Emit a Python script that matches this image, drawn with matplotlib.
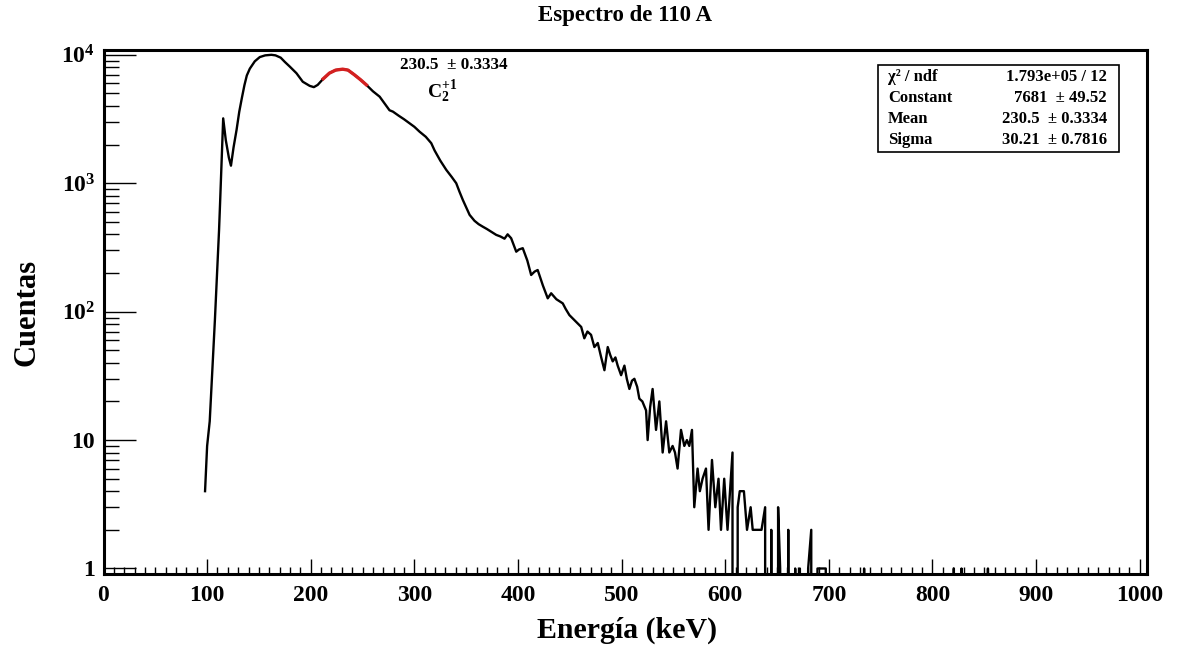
import numpy as np
import matplotlib.pyplot as plt
from matplotlib.patches import Rectangle
from matplotlib.ticker import FixedLocator, FixedFormatter, MultipleLocator, LogLocator, NullFormatter

plt.rcParams['font.family'] = 'Liberation Serif'
plt.rcParams['font.weight'] = 'bold'
plt.rcParams['mathtext.fontset'] = 'custom'
plt.rcParams['mathtext.rm'] = 'Liberation Serif:bold'
plt.rcParams['mathtext.it'] = 'Liberation Serif:italic:bold'
plt.rcParams['mathtext.bf'] = 'Liberation Serif:bold'

# spectrum, in pieces (keV, counts)
e_subida = [98, 100, 102.5, 105, 107.5, 111.5, 112.5, 115.5, 118, 121, 123]
c_subida = [4, 9, 14, 35, 86, 430, 700, 3200, 2170, 1580, 1370]

e_picos = [125.5, 128.4, 131, 133.5, 136, 138.3, 141.2, 146, 150.8, 156,
           162, 166, 171, 175, 179.8, 186.2, 192.3, 199, 203, 206.7,
           212, 218, 224, 230.8, 236, 242, 248, 253.7, 260, 266.5,
           271, 276]
c_picos = [1900, 2600, 3600, 4600, 5800, 6900, 7800, 8900, 9600, 9900,
           10000, 9900, 9500, 8800, 8090, 7190, 6170, 5730, 5600, 5830,
           6500, 7200, 7600, 7730, 7600, 7000, 6400, 5830, 5200, 4720,
           4200, 3700]

e_caida = [279.3, 285, 290, 295.4, 300, 305, 311, 316.3, 319.5, 325,
           330.8, 336, 340.4, 343.5, 346.8, 350, 353.3, 358, 362, 366,
           370, 374, 379, 383, 387, 390, 393.4, 398.3, 401, 404.6,
           409, 412.7, 416, 419, 424, 428.7, 432, 437, 443.2, 446,
           449.6, 455, 461, 464, 467, 470.5, 473.7, 477, 480, 483.4,
           486.6, 489, 491.4, 494, 496.2, 499.5]
c_caida = [3610, 3350, 3150, 2930, 2750, 2520, 2300, 2050, 1800, 1500,
           1270, 1120, 1000, 860, 740, 650, 567, 510, 480, 459,
           440, 420, 396, 385, 370, 400, 373, 293, 305, 312,
           250, 193, 205, 211, 160, 127, 139, 125, 116, 105,
           94, 85, 76, 62, 70, 66, 53, 57, 45, 35,
           53, 46, 41, 44, 38, 32]

e_cola = [502.7, 505, 507.5, 510, 512.3, 515, 517.1, 520, 523.6, 525.1,
          527.5, 529.9, 533.2, 536.4, 539.6, 542.9, 546, 549.2, 551.5, 554,
          557.3, 560.5, 563, 565.3, 567.9, 570.1, 573.3, 575.5, 578.1, 581.4,
          583.9, 587.2, 590.4, 593.5, 595.9, 599, 602.2]
c_cola = [38, 30, 25, 29, 30, 26, 21, 20, 17, 10,
          18, 25, 12, 20, 8, 14, 8, 9, 8, 6,
          12, 9, 10, 9, 12, 3, 6, 4, 5, 6,
          2, 7, 3, 5, 2, 5, 2]

e_final = [607, 609, 612, 614, 618, 621, 624.5, 626.5, 630, 635,
           638.5, 640.5, 644.4, 645.5, 651, 653, 655, 660.8, 663, 667.5,
           669, 672, 674, 678, 680, 683, 685, 687, 689, 697,
           699, 732, 734, 736, 818.6, 820.6, 822.6, 826, 828, 830,
           851.5, 853.5, 855.5]
c_final = [8, 0, 3, 4, 4, 2, 3, 2, 2, 2,
           3, 0, 2, 0, 3, 1, 0, 2, 0, 1,
           0, 1, 0, 0, 1, 2, 0, 0, 1, 1,
           0, 0, 1, 0, 0, 1, 0, 0, 1, 0,
           0, 1, 0]

# gaussian fit shown in the stat box
fit_rango = (207, 254)
fit_chi2 = '1.793e+05 / 12'
fit_constant = '7681  ± 49.52'
fit_mean = '230.5  ± 0.3334'
fit_sigma = '30.21  ± 0.7816'

energia = np.concatenate([e_subida, e_picos, e_caida, e_cola, e_final])
cuentas = np.concatenate([c_subida, c_picos, c_caida, c_cola, c_final]).astype(float)

W, H = 1180, 649
fig = plt.figure(figsize=(W / 100, H / 100), dpi=100)
ax = fig.add_axes([103.5 / W, 1 - 574 / H, (1147 - 103.5) / W, (574 - 50) / H])

ax.set_yscale('log', nonpositive='clip')
ax.plot(energia, cuentas, color='black', lw=1.7)
sel = (energia >= fit_rango[0]) & (energia <= fit_rango[1])
ax.plot(energia[sel], cuentas[sel], color='#d42020', lw=2.4)

ax.set_xlim(0, 1007)
ax.set_ylim(0.906, 1.09e4)

ax.xaxis.set_major_locator(MultipleLocator(100))
ax.xaxis.set_minor_locator(MultipleLocator(10))
ax.yaxis.set_major_locator(FixedLocator([1, 10, 100, 1000, 10000]))
ax.yaxis.set_major_formatter(FixedFormatter(['1', '10', '$10^{2}$', '$10^{3}$', '$10^{4}$']))
ax.yaxis.set_minor_locator(LogLocator(base=10, subs=np.arange(2, 10)))
ax.yaxis.set_minor_formatter(NullFormatter())

ax.tick_params(axis='both', which='both', direction='in', top=False, right=False,
               width=1.0, labelsize=17)
ax.tick_params(axis='y', which='major', length=23, pad=6)
ax.tick_params(axis='y', which='minor', length=11)
ax.tick_params(axis='x', which='major', length=11, pad=8)
ax.tick_params(axis='x', which='minor', length=5)
for lab in ax.get_xticklabels() + ax.get_yticklabels():
    lab.set_fontweight('bold')
for sp in ax.spines.values():
    sp.set_linewidth(2.2)

fig.text(625 / W, 1 - 16 / H, 'Espectro de 110 A', ha='center', va='center',
         fontsize=16.5, fontweight='bold')
fig.text(627 / W, 1 - 630 / H, 'Energía (keV)', ha='center', va='center',
         fontsize=21.5, fontweight='bold')
fig.text(27 / W, 1 - 312 / H, 'Cuentas', ha='center', va='center',
         rotation=90, fontsize=22, fontweight='bold')

# annotation near the fitted peak
fig.text(454 / W, 1 - 65 / H, fit_mean, ha='center', va='center',
         fontsize=12.3, fontweight='bold')
fig.text(427 / W, 1 - 92 / H, r'$\mathrm{C}_{2}^{+1}$', ha='left',
         va='center', fontsize=14)

# stat box
x0, y0, x1, y1 = 878, 65, 1119, 152
fig.add_artist(Rectangle((x0 / W, 1 - y1 / H), (x1 - x0) / W, (y1 - y0) / H,
                         transform=fig.transFigure, facecolor='white',
                         edgecolor='black', lw=1.2))
filas = [('χ² / ndf', fit_chi2), ('Constant', fit_constant),
         ('Mean', fit_mean), ('Sigma', fit_sigma)]
for i, (nombre, valor) in enumerate(filas):
    yy = 1 - (77 + 21 * i) / H
    fig.text(888 / W, yy, nombre, ha='left', va='center', fontsize=12,
             fontweight='bold')
    fig.text(1107 / W, yy, valor, ha='right', va='center', fontsize=12,
             fontweight='bold')

fig.savefig('out.png', dpi=100)
